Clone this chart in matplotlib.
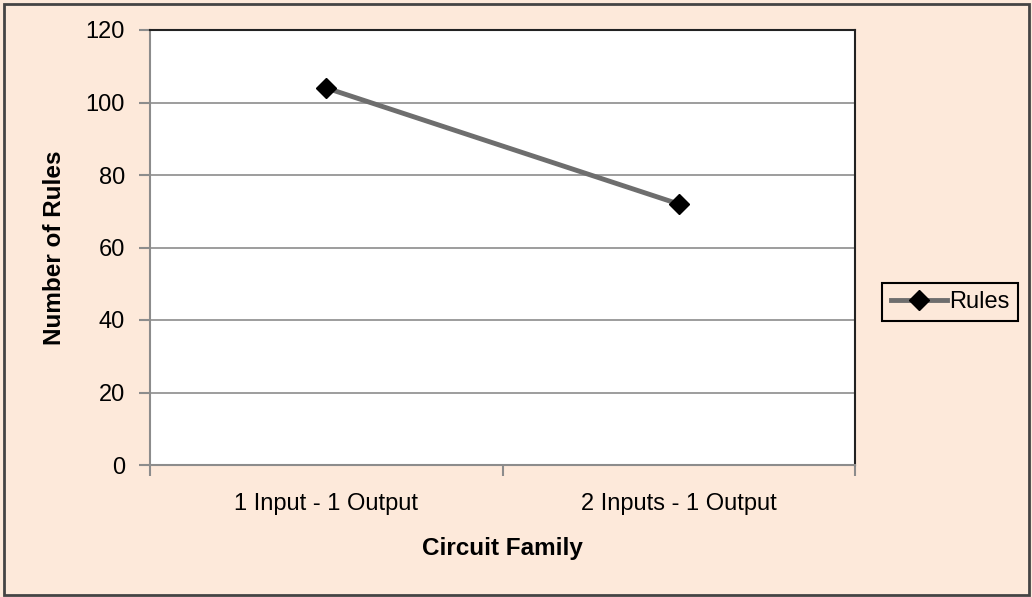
import matplotlib
matplotlib.use('Agg')
import matplotlib.pyplot as plt
from matplotlib.patches import Rectangle

plt.rcParams['font.family'] = ['Liberation Sans', 'DejaVu Sans']

categories = ['1 Input - 1 Output', '2 Inputs - 1 Output']
rules = [104, 72]
yticks = [0, 20, 40, 60, 80, 100, 120]

bg = '#fde9da'
fig = plt.figure(figsize=(10.32, 5.97), dpi=100, facecolor=bg)
ax = fig.add_axes([150/1032, 1 - 465/597, 705/1032, 435/597])
ax.set_facecolor('white')

x = [0.5, 1.5]
ax.plot(x, rules, color='#6e6e6e', lw=3.5, marker='D', ms=10,
        mfc='black', mec='black', label='Rules', zorder=3)

ax.set_xlim(0, 2)
ax.set_ylim(0, 120)
ax.set_yticks(yticks)
ax.yaxis.grid(True, color='#8c8c8c', lw=1.2)
ax.set_axisbelow(True)

ax.set_xticks([0, 1, 2])
ax.set_xticklabels([])
ax.set_xticks(x, minor=True)
ax.set_xticklabels(categories, minor=True)
ax.tick_params(axis='x', which='minor', length=0, pad=20, labelsize=17)
ax.tick_params(axis='x', which='major', length=8, width=1.5, color='#8c8c8c')
ax.tick_params(axis='y', length=8, width=1.5, color='#8c8c8c', pad=10, labelsize=17)

for s in ['left', 'bottom']:
    ax.spines[s].set_color('#8c8c8c')
    ax.spines[s].set_linewidth(1.5)
for s in ['top', 'right']:
    ax.spines[s].set_color('#222222')
    ax.spines[s].set_linewidth(1.5)

ax.set_xlabel('Circuit Family', fontsize=17.5, fontweight='bold', labelpad=16)
ax.set_ylabel('Number of Rules', fontsize=17.5, fontweight='bold', labelpad=14)

leg = ax.legend(loc='center left', bbox_to_anchor=(1.022, 0.375), fontsize=17,
                frameon=True, fancybox=False, edgecolor='black', facecolor=bg,
                framealpha=1, handlelength=2.4, handletextpad=0.1,
                borderpad=0.35)
leg.get_frame().set_linewidth(1.5)

fig.patches.append(Rectangle((0.004, 0.004), 0.993, 0.99, transform=fig.transFigure,
                             fill=False, edgecolor='#444444', lw=2))

fig.savefig('out.png', dpi=100, facecolor=bg)
